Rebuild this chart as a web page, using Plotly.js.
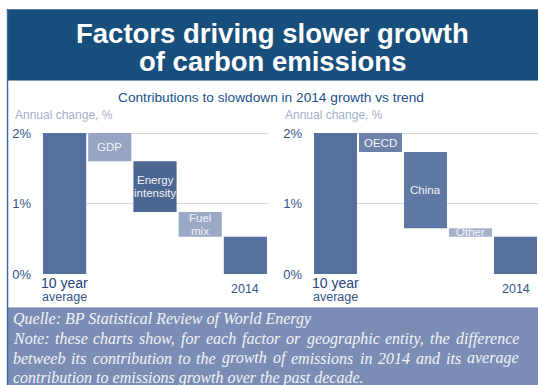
<!DOCTYPE html>
<html>
<head>
<meta charset="utf-8">
<script src="https://cdn.plot.ly/plotly-3.0.1.min.js"></script>
<style>
  html, body { margin: 0; padding: 0; background: #ffffff; }
  #chart { width: 538px; height: 385px; }
</style>
</head>
<body>
<div id="chart"></div>
<script>
// Waterfall of annual emissions growth: decade average, contributions, 2014
const factorCategories = ['10 year average', 'GDP', 'Energy intensity', 'Fuel mix', '2014'];
const factorLabels = ['', 'GDP', 'Energy<br>intensity', 'Fuel<br>mix', ''];
const factorStart = 2.0;                    // 10 year average, %
const factorDeltas = [-0.40, -0.72, -0.35]; // GDP, energy intensity, fuel mix
const factorColors = ['#566f9c', '#97a4c3', '#4b6691', '#9ba8c6', '#566f9c'];

const regionCategories = ['10 year average', 'OECD', 'China', 'Other', '2014'];
const regionLabels = ['', 'OECD', 'China', 'Other', ''];
const regionStart = 2.0;
const regionDeltas = [-0.27, -1.08, -0.12]; // OECD, China, other
const regionColors = ['#566f9c', '#6d82ab', '#5e77a3', '#a5b1cc', '#566f9c'];

const yTicks = [0, 1, 2];
const yTickText = ['0%', '1%', '2%'];

const W = 538, H = 385;
const px = x => x / W;
const py = y => 1 - y / H;

// Turn a start level plus deltas into floating bar bases and heights
function waterfall(start, deltas) {
  const base = [0], height = [start];
  let level = start;
  deltas.forEach(d => {
    const next = level + d;
    base.push(Math.min(level, next));
    height.push(Math.abs(d));
    level = next;
  });
  base.push(0);
  height.push(level);
  return { base, height };
}

const left = waterfall(factorStart, factorDeltas);
const right = waterfall(regionStart, regionDeltas);

const traces = [
  {
    type: 'bar', x: factorCategories, y: left.height, base: left.base,
    marker: { color: factorColors, line: { width: 0 } },
    xaxis: 'x', yaxis: 'y', hoverinfo: 'skip'
  },
  {
    type: 'bar', x: regionCategories, y: right.height, base: right.base,
    marker: { color: regionColors, line: { width: 0 } },
    xaxis: 'x2', yaxis: 'y2', hoverinfo: 'skip'
  }
];

const sans = 'Liberation Sans, Arial, sans-serif';
const serifFamily = 'Liberation Serif, Times New Roman, serif';
const tickColor = '#34548a';
const gridColor = '#d4dbe8';

function yAxis(anchor) {
  return {
    anchor: anchor,
    domain: [py(274), py(129.5)],
    range: [0, 2.05],
    tickmode: 'array',
    tickvals: yTicks,
    ticktext: yTickText,
    showgrid: true, gridcolor: gridColor, gridwidth: 1,
    zeroline: false, showline: false,
    ticks: '', ticklabelstandoff: 10,
    tickfont: { family: sans, size: 13, color: tickColor },
    fixedrange: true
  };
}
function xAxis(anchor, domain) {
  return {
    anchor: anchor, domain: domain, type: 'category',
    range: [-0.5, 4.5], showticklabels: false, showgrid: false,
    zeroline: false, showline: false, ticks: '', fixedrange: true
  };
}

const annotations = [];

// in-bar labels, centred on each floating bar (one annotation per line)
function barLabels(labels, wf, xr, yr) {
  labels.forEach((lab, i) => {
    if (!lab) return;
    const lines = lab.split('<br>');
    lines.forEach((ln, k) => {
      annotations.push({
        xref: xr, yref: yr, x: i, y: wf.base[i] + wf.height[i] / 2,
        yshift: ((lines.length - 1) / 2 - k) * 13,
        text: ln, showarrow: false,
        font: { family: sans, size: 11.5, color: '#f2f4f8' },
        xanchor: 'center', yanchor: 'middle'
      });
    });
  });
}
barLabels(factorLabels, left, 'x', 'y');
barLabels(regionLabels, right, 'x2', 'y2');

// category labels under the first and last bars
['x', 'x2'].forEach(xr => {
  annotations.push({ xref: xr, yref: 'paper', x: 0, y: py(283),
    text: '10 year', showarrow: false, xanchor: 'center', yanchor: 'middle',
    font: { family: sans, size: 14, color: '#23437c' } });
  annotations.push({ xref: xr, yref: 'paper', x: 0, y: py(297),
    text: 'average', showarrow: false, xanchor: 'center', yanchor: 'middle',
    font: { family: sans, size: 12.5, color: '#34548a' } });
  annotations.push({ xref: xr, yref: 'paper', x: 4, y: py(288.5),
    text: '2014', showarrow: false, xanchor: 'center', yanchor: 'middle',
    font: { family: sans, size: 12.5, color: '#34548a' } });
});

// axis captions
[13, 283].forEach(x => annotations.push({
  xref: 'paper', yref: 'paper', x: px(x), y: py(115),
  text: 'Annual change, %', showarrow: false, xanchor: 'left', yanchor: 'middle',
  font: { family: sans, size: 12, color: '#a3b0cb' }
}));

// chart subtitle
annotations.push({
  xref: 'paper', yref: 'paper', x: px(271), y: py(97.5),
  text: 'Contributions to slowdown in 2014 growth vs trend', showarrow: false,
  xanchor: 'center', yanchor: 'middle',
  font: { family: sans, size: 13.7, color: '#21508a' }
});

// headline in the banner
['Factors driving slower growth', 'of carbon emissions'].forEach((t, i) => {
  annotations.push({
    xref: 'paper', yref: 'paper', x: px(272.5), y: py(33.5 + i * 28),
    text: '<b>' + t + '</b>', showarrow: false, xanchor: 'center', yanchor: 'middle',
    font: { family: sans, size: 27.5, color: '#ffffff' }
  });
});

// source and note; the middle note lines are justified word by word
const footLines = [
  'Quelle: BP Statistical Review of World Energy',
  'Note: these charts show, for each factor or geographic entity, the difference',
  'betweeb its contribution to the growth of emissions in 2014 and its average',
  'contribution to emissions growth over the past decade.'
];
const footJustify = [false, true, true, false];
const footSize = 16;
const footFont = { family: serifFamily, size: footSize, color: '#f3f4f8', style: 'italic' };
const footLeft = 12, footRight = 518;
const justifiedGroups = []; // annotation indices of each justified line's words

footLines.forEach((t, i) => {
  const y = py(319 + i * 19.5);
  if (!footJustify[i]) {
    annotations.push({ xref: 'paper', yref: 'paper', x: px(footLeft), y: y,
      text: t, showarrow: false, xanchor: 'left', yanchor: 'middle', font: footFont,
      borderpad: 0 });
    return;
  }
  const words = t.split(' ');
  const group = [];
  words.forEach((w, k) => {
    group.push(annotations.length);
    annotations.push({ xref: 'paper', yref: 'paper',
      x: px(footLeft + (footRight - footLeft) * k / words.length), y: y,
      text: w, showarrow: false, xanchor: 'left', yanchor: 'middle', font: footFont,
      borderpad: 0 });
  });
  justifiedGroups.push(group);
});

const shapes = [
  // banner
  { type: 'rect', xref: 'paper', yref: 'paper', x0: px(7), x1: 1, y0: py(80.5), y1: py(9),
    fillcolor: '#174e7c', line: { width: 0 }, layer: 'below' },
  { type: 'line', xref: 'paper', yref: 'paper', x0: px(7), x1: 1, y0: py(9.5), y1: py(9.5),
    line: { color: '#5f81a8', width: 1 }, layer: 'below' },
  { type: 'line', xref: 'paper', yref: 'paper', x0: px(7), x1: 1, y0: py(80.5), y1: py(80.5),
    line: { color: '#7f9abb', width: 1 }, layer: 'below' },
  // footer panel
  { type: 'rect', xref: 'paper', yref: 'paper', x0: px(7), x1: 1, y0: 0, y1: py(308),
    fillcolor: '#7b8db5', line: { width: 0 }, layer: 'below' },
  { type: 'line', xref: 'paper', yref: 'paper', x0: px(7), x1: 1, y0: py(308), y1: py(308),
    line: { color: '#6b7fa9', width: 1 }, layer: 'below' },
  // left frame edge
  { type: 'line', xref: 'paper', yref: 'paper', x0: px(7.5), x1: px(7.5), y0: 0, y1: py(9),
    line: { color: '#3f6797', width: 1.5 }, layer: 'above' }
];

const layout = {
  width: W, height: H,
  margin: { l: 0, r: 0, t: 0, b: 0 },
  paper_bgcolor: '#ffffff', plot_bgcolor: 'rgba(0,0,0,0)',
  showlegend: false, bargap: 0.045,
  xaxis: xAxis('y', [px(42), px(268)]),
  xaxis2: xAxis('y2', [px(313), 1]),
  yaxis: yAxis('x'),
  yaxis2: yAxis('x2'),
  annotations: annotations,
  shapes: shapes
};

const gd = document.getElementById('chart');
Plotly.newPlot(gd, traces, layout, { displayModeBar: false, staticPlot: true }).then(() => {
  // spread the words of the justified lines using their rendered widths
  const update = {};
  justifiedGroups.forEach(group => {
    const widths = group.map(idx => {
      const el = gd.querySelector('.annotation[data-index="' + idx + '"] text.annotation-text');
      return el ? el.getComputedTextLength() : 0;
    });
    const total = widths.reduce((a, b) => a + b, 0);
    const gap = (footRight - footLeft - total) / (group.length - 1);
    let x = footLeft;
    group.forEach((idx, k) => {
      update['annotations[' + idx + '].x'] = px(x);
      x += widths[k] + gap;
    });
  });
  return Plotly.relayout(gd, update);
});
</script>
</body>
</html>
